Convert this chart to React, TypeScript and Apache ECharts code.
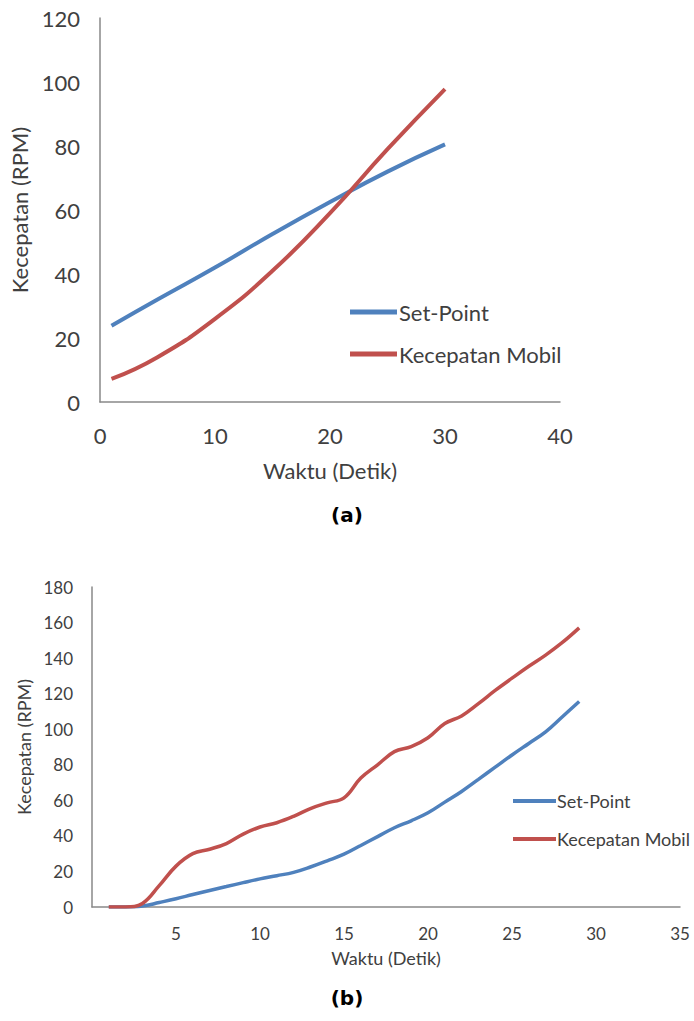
import React, { useEffect, useRef } from "react";
import * as echarts from "echarts";

// Chart (a)
const timeA = [1, 5, 10, 15, 20, 25, 30];
const setPointA = [23.8, 32, 42, 52.5, 62.5, 72, 80.5];
const mobilA = [7.2, 14, 26, 41, 59, 79, 97.8];

// Chart (b)
const timeB = [1, 2, 3, 4, 5, 6, 7, 8, 9, 10, 11, 12, 13, 14, 15, 16, 17, 18, 19, 20, 21, 22, 23, 24, 25, 26, 27, 28, 29];
const setPointB = [0, 0, 0.5, 2.5, 4.6, 7, 9.3, 11.5, 13.7, 15.8, 17.6, 19.5, 22.5, 26, 29.7, 34.6, 39.6, 44.6, 48.5, 53, 59, 65, 71.8, 78.7, 85.5, 92, 98.5, 107, 115.6];
const mobilB = [0, 0, 2, 12, 23, 30, 32.5, 35.7, 41, 45, 47.4, 51, 55.4, 58.6, 61.4, 72.5, 80, 87.4, 90.2, 95.2, 103.2, 107.5, 114.4, 121.8, 128.7, 135.4, 141.7, 148.8, 157];

const BLUE = "#4F81BD";
const RED = "#C0504D";
const AXIS = "#898989";
const TEXT = "#404040";
const FONT = "Lato";

const pair = (xs: number[], ys: number[]) => xs.map((x, i) => [x, ys[i]]);

export default function App() {
  const ref = useRef<HTMLDivElement>(null);
  useEffect(() => {
    const chart = echarts.init(ref.current!, undefined, { renderer: "svg" });
    const axisCommon = {
      axisLine: { show: true, lineStyle: { color: AXIS, width: 1.5 } },
      axisTick: { show: false },
      splitLine: { show: false },
    };
    chart.setOption({
      animation: false,
      backgroundColor: "#ffffff",
      textStyle: { fontFamily: FONT, color: TEXT },
      grid: [
        { left: 100, top: 18, width: 460, height: 384 },
        { left: 92, top: 587, width: 588, height: 320 },
      ],
      xAxis: [
        {
          type: "value", gridIndex: 0, min: 0, max: 40, interval: 10,
          ...axisCommon,
          axisLabel: { fontSize: 22, color: TEXT, fontFamily: FONT, margin: 22 },
          name: "Waktu (Detik)", nameLocation: "middle", nameGap: 57,
          nameTextStyle: { fontSize: 22, color: TEXT, fontFamily: FONT },
        },
        {
          type: "value", gridIndex: 1, min: 0, max: 35, interval: 5,
          ...axisCommon,
          axisLabel: {
            fontSize: 17, color: TEXT, fontFamily: FONT, margin: 18,
            formatter: (v: number) => (v === 0 ? "" : String(v)),
          },
          name: "Waktu (Detik)", nameLocation: "middle", nameGap: 42,
          nameTextStyle: { fontSize: 18, color: TEXT, fontFamily: FONT },
        },
      ],
      yAxis: [
        {
          type: "value", gridIndex: 0, min: 0, max: 120, interval: 20,
          ...axisCommon,
          axisLabel: { fontSize: 22, color: TEXT, fontFamily: FONT, margin: 20 },
          name: "Kecepatan (RPM)", nameLocation: "middle", nameGap: 66,
          nameTextStyle: { fontSize: 22, color: TEXT, fontFamily: FONT },
        },
        {
          type: "value", gridIndex: 1, min: 0, max: 180, interval: 20,
          ...axisCommon,
          axisLabel: { fontSize: 17, color: TEXT, fontFamily: FONT, margin: 19 },
          name: "Kecepatan (RPM)", nameLocation: "middle", nameGap: 56,
          nameTextStyle: { fontSize: 18, color: TEXT, fontFamily: FONT },
        },
      ],
      legend: [
        {
          orient: "vertical", left: 345, top: 294, itemWidth: 47, itemHeight: 5,
          itemGap: 16, icon: "rect",
          data: ["Set-Point", "Kecepatan Mobil"],
          textStyle: { fontSize: 22, color: TEXT, fontFamily: FONT, lineHeight: 26, padding: [0, 0, 0, -3] },
        },
        {
          orient: "vertical", left: 508, top: 786, itemWidth: 43, itemHeight: 4,
          itemGap: 18, icon: "rect",
          data: ["Set-Point", "Kecepatan Mobil"],
          textStyle: { fontSize: 18, color: TEXT, fontFamily: FONT, lineHeight: 20, padding: [0, 0, 0, -4] },
        },
      ],
      series: [
        {
          name: "Set-Point", type: "line", xAxisIndex: 0, yAxisIndex: 0,
          data: pair(timeA, setPointA), smooth: true, showSymbol: false, symbol: "none",
          lineStyle: { color: BLUE, width: 4 }, itemStyle: { color: BLUE },
        },
        {
          name: "Kecepatan Mobil", type: "line", xAxisIndex: 0, yAxisIndex: 0,
          data: pair(timeA, mobilA), smooth: true, showSymbol: false, symbol: "none",
          lineStyle: { color: RED, width: 4 }, itemStyle: { color: RED },
        },
        {
          name: "Set-Point", type: "line", xAxisIndex: 1, yAxisIndex: 1,
          data: pair(timeB, setPointB), smooth: 0.4, showSymbol: false, symbol: "none",
          lineStyle: { color: BLUE, width: 3.5 }, itemStyle: { color: BLUE },
        },
        {
          name: "Kecepatan Mobil", type: "line", xAxisIndex: 1, yAxisIndex: 1,
          data: pair(timeB, mobilB), smooth: 0.4, showSymbol: false, symbol: "none",
          lineStyle: { color: RED, width: 3.5 }, itemStyle: { color: RED },
        },
      ],
      graphic: [
        {
          type: "text", left: "center", top: 505,
          style: { text: "(a)", font: "bold 20px 'DejaVu Sans'", fill: "#000" },
        },
        {
          type: "text", left: "center", top: 988,
          style: { text: "(b)", font: "bold 20px 'DejaVu Sans'", fill: "#000" },
        },
      ],
    });
    return () => chart.dispose();
  }, []);
  return (
    <div
      ref={ref}
      style={{ position: "absolute", left: 0, top: 0, width: 694, height: 1021 }}
    />
  );
}
